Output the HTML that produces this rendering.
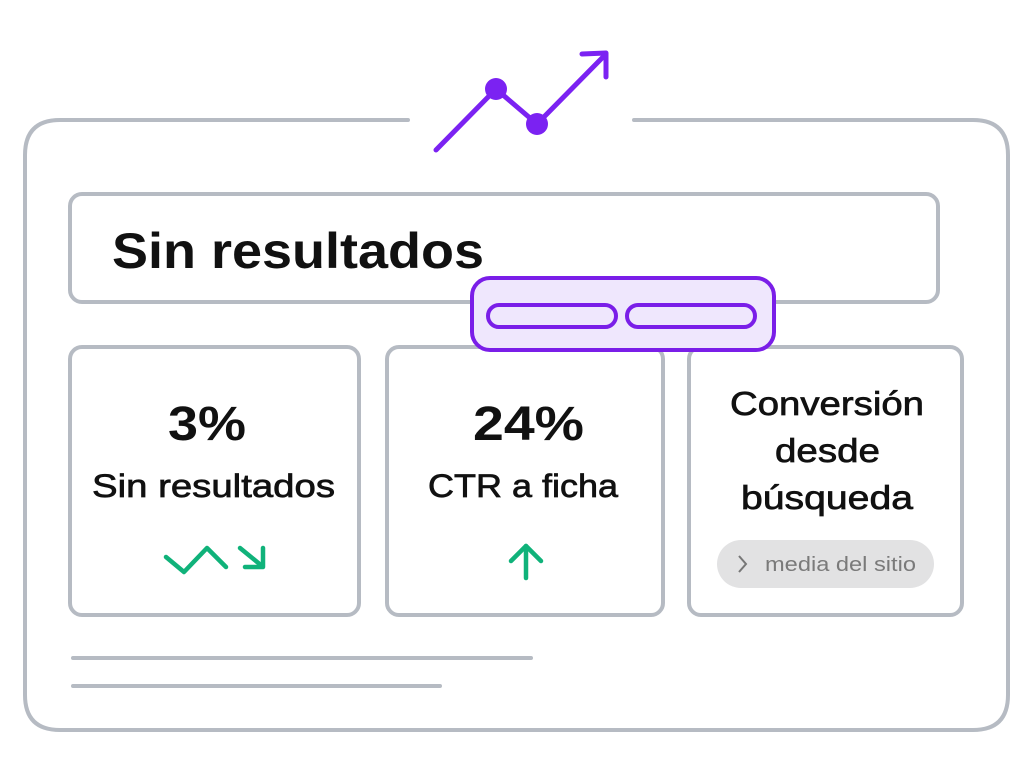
<!DOCTYPE html>
<html><head><meta charset="utf-8"><style>
html,body{margin:0;padding:0;background:#fff;}
svg{display:block;}
text{font-family:"Liberation Sans",sans-serif;fill:#111;}
.m{stroke:#111;stroke-width:0.7;}
</style></head><body>
<svg width="1024" height="782" viewBox="0 0 1024 782" xmlns="http://www.w3.org/2000/svg">
<g fill="none" stroke="#b6bbc3" stroke-width="4" stroke-linecap="round">
<path d="M408 120 H60 Q25 120 25 155 V695 Q25 730 60 730 H973 Q1008 730 1008 695 V155 Q1008 120 973 120 H634"/>
<rect x="70" y="194" width="868" height="108" rx="12"/>
<rect x="70" y="347" width="289" height="268" rx="12"/>
<rect x="387" y="347" width="276" height="268" rx="12"/>
<rect x="689" y="347" width="273" height="268" rx="12"/>
<line x1="73" y1="658" x2="531" y2="658"/>
<line x1="73" y1="686" x2="440" y2="686"/>
</g>
<g fill="none" stroke="#7b22f2" stroke-width="5" stroke-linecap="round" stroke-linejoin="round">
<polyline points="436,150 496,89 537,124 604,56"/>
<polyline points="582,54 606,53 606,77"/>
</g>
<circle cx="496" cy="89" r="11" fill="#7b22f2"/>
<circle cx="537" cy="124" r="11" fill="#7b22f2"/>
<text x="112" y="268" font-size="50" font-weight="bold" textLength="372" lengthAdjust="spacingAndGlyphs">Sin resultados</text>
<rect x="472" y="278" width="302" height="72" rx="18" fill="#efe7fd" stroke="#7a1ee8" stroke-width="4"/>
<rect x="488" y="305" width="128" height="22" rx="11" fill="#efe7fd" stroke="#7a1ee8" stroke-width="4"/>
<rect x="627" y="305" width="128" height="22" rx="11" fill="#efe7fd" stroke="#7a1ee8" stroke-width="4"/>
<text x="168" y="440" font-size="48" font-weight="bold" textLength="78" lengthAdjust="spacingAndGlyphs">3%</text>
<text x="92" y="497" font-size="32" class="m" textLength="243" lengthAdjust="spacingAndGlyphs">Sin resultados</text>
<text x="473" y="440" font-size="48" font-weight="bold" textLength="111" lengthAdjust="spacingAndGlyphs">24%</text>
<text x="428" y="497" font-size="32" class="m" textLength="190" lengthAdjust="spacingAndGlyphs">CTR a ficha</text>
<text x="730" y="415" font-size="33" class="m" textLength="194" lengthAdjust="spacingAndGlyphs">Conversión</text>
<text x="775" y="462" font-size="33" class="m" textLength="105" lengthAdjust="spacingAndGlyphs">desde</text>
<text x="741" y="509" font-size="33" class="m" textLength="172" lengthAdjust="spacingAndGlyphs">búsqueda</text>
<g fill="none" stroke="#10b27a" stroke-width="4.5" stroke-linecap="round" stroke-linejoin="round">
<polyline points="166,557 184,572 207,548 226,567"/>
<polyline points="240,548 262,566"/>
<polyline points="263,548 263,567 245,567"/>
<line x1="526" y1="578" x2="526" y2="546"/>
<polyline points="511,561 526,546 541,561"/>
</g>
<rect x="717" y="540" width="217" height="48" rx="24" fill="#e2e2e3"/>
<polyline points="739,556 746,564 739,572" fill="none" stroke="#777" stroke-width="2"/>
<text x="765" y="571" font-size="20" style="fill:#7a7a7a" textLength="151" lengthAdjust="spacingAndGlyphs">media del sitio</text>
</svg>
</body></html>
